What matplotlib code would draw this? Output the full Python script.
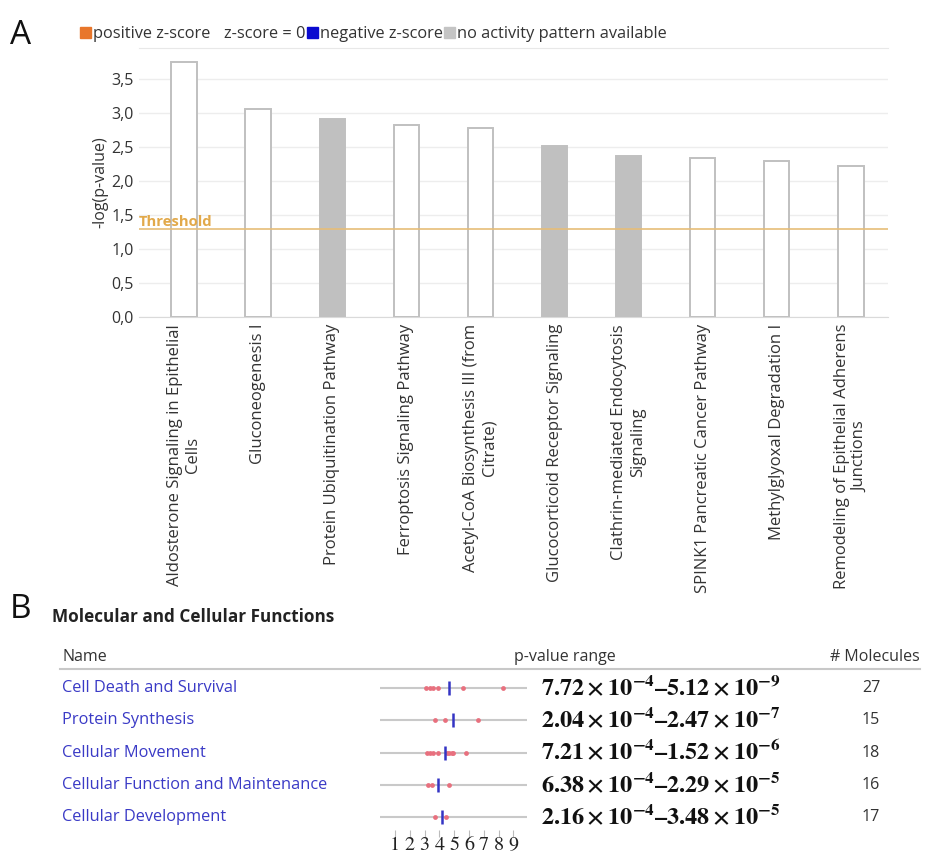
import numpy as np
import matplotlib
matplotlib.use('Agg')
import matplotlib.pyplot as plt
from matplotlib.patches import Patch
from matplotlib.ticker import FuncFormatter

plt.rcParams['font.family'] = ['Open Sans', 'DejaVu Sans']
plt.rcParams['mathtext.fontset'] = 'stix'

### data, panel A
pathways = [
  'Aldosterone Signaling in Epithelial\nCells',
  'Gluconeogenesis I',
  'Protein Ubiquitination Pathway',
  'Ferroptosis Signaling Pathway',
  'Acetyl-CoA Biosynthesis III (from\nCitrate)',
  'Glucocorticoid Receptor Signaling',
  'Clathrin-mediated Endocytosis\nSignaling',
  'SPINK1 Pancreatic Cancer Pathway',
  'Methylglyoxal Degradation I',
  'Remodeling of Epithelial Adherens\nJunctions',
]
neglogp = [3.76, 3.06, 2.92, 2.83, 2.78, 2.52, 2.37, 2.34, 2.30, 2.22]
no_pattern = [False, False, True, False, False, True, True, False, False, False]
threshold = 1.3

legend_labels = ['positive z-score', 'z-score = 0', 'negative z-score', 'no activity pattern available']
legend_colors = ['#e8762b', '#ffffff', '#0a0ad0', '#c4c4c4']

### data, panel B
functions = ['Cell Death and Survival', 'Protein Synthesis', 'Cellular Movement',
             'Cellular Function and Maintenance', 'Cellular Development']
p_low = [(7.72, -4), (2.04, -4), (7.21, -4), (6.38, -4), (2.16, -4)]
p_high = [(5.12, -9), (2.47, -7), (1.52, -6), (2.29, -5), (3.48, -5)]
n_molecules = [27, 15, 18, 16, 17]
# -log(p) of the single annotations (red dots) and the blue marker, per row
dots = [
  [3.11, 3.36, 3.55, 3.93, 5.57, 8.29],
  [3.69, 4.38, 6.61],
  [3.14, 3.36, 3.59, 3.93, 4.54, 4.67, 4.83, 4.94, 5.82],
  [3.20, 3.50, 4.64],
  [3.67, 4.46],
]
blue_mark = [4.67, 4.90, 4.38, 3.93, 4.15]
scale_ticks = [1, 2, 3, 4, 5, 6, 7, 8, 9]
scale_range = (0, 9.9)

W, H = 926, 858
def fx(x): return x / W
def fy(y): return 1 - y / H

fig = plt.figure(figsize=(W / 100, H / 100), dpi=100)

### panel A
ax = fig.add_axes([fx(139), fy(317), (888 - 139) / W, (317 - 48) / H])
idx = np.arange(len(pathways))
for i, (v, np_) in enumerate(zip(neglogp, no_pattern)):
  ax.bar(idx[i], v, width=0.34, color='#c0c0c0' if np_ else 'white',
         edgecolor='#c0c0c0', linewidth=1.4, zorder=3)
ax.axhline(threshold, color='#e6bd78', lw=1.2, zorder=4)
ax.text(0, threshold, 'Threshold', transform=ax.get_yaxis_transform(),
        color='#e2a94a', fontsize=10.7, fontweight='bold', va='bottom', ha='left', zorder=5)
ax.set_xlim(-0.607, 9.5)
ax.set_ylim(0, 3.96)
ax.set_yticks(np.arange(0, 3.6, 0.5))
ax.yaxis.set_major_formatter(FuncFormatter(lambda v, p: '{:.1f}'.format(v).replace('.', ',')))
ax.grid(axis='y', color='#ededed', lw=1, zorder=0)
ax.set_axisbelow(True)
for s in ['left', 'right']:
  ax.spines[s].set_visible(False)
ax.spines['bottom'].set_color('#dadada')
ax.spines['top'].set_color('#e8e8e8')
ax.tick_params(axis='y', length=0, pad=4, labelsize=11.5, labelcolor='#333333')
ax.tick_params(axis='x', length=0, pad=5)
ax.set_xticks(idx)
ax.set_xticklabels(pathways, rotation=90, fontsize=12, ha='center', va='top',
                   multialignment='center', color='#333333')
ax.set_ylabel('-log(p-value)', fontsize=11.5, color='#333333', labelpad=2)

handles = [Patch(facecolor=c, edgecolor=c) for c in legend_colors]
fig.legend(handles, legend_labels, loc='upper left', bbox_to_anchor=(fx(80), fy(26)),
           ncol=4, frameon=False, handlelength=0.7, handleheight=0.7,
           handletextpad=0.1, columnspacing=0.05, borderpad=0, borderaxespad=0,
           fontsize=11.8, labelcolor='#333333')

fig.text(fx(10), fy(36), 'A', fontsize=24, va='center', ha='left', color='#111111')
fig.text(fx(10), fy(610), 'B', fontsize=24, va='center', ha='left', color='#111111')

### panel B
fig.text(fx(52), fy(617), 'Molecular and Cellular Functions', fontsize=12.3,
         fontweight='bold', va='center', ha='left', color='#222222')
fig.text(fx(62), fy(657), 'Name', fontsize=11.5, va='center', color='#333333')
fig.text(fx(565), fy(657), 'p-value range', fontsize=11.5, va='center', ha='center', color='#333333')
fig.text(fx(920), fy(657), '# Molecules', fontsize=11.5, va='center', ha='right', color='#333333')
fig.add_artist(plt.Line2D([fx(60), fx(920)], [fy(669), fy(669)], color='#c8c8c8', lw=1.5))

row_y = [688 + 32.3 * i for i in range(len(functions))]
for i, name in enumerate(functions):
  fig.text(fx(62), fy(row_y[i]), name, fontsize=11.8, va='center', color='#3a3ac6')
  (a, ea), (b, eb) = p_low[i], p_high[i]
  txt = (r'$\mathbf{' + '{:.2f}'.format(a) + r'\times10^{' + str(ea) + r'}}$' + '\u2013'
         + r'$\mathbf{' + '{:.2f}'.format(b) + r'\times10^{' + str(eb) + r'}}$')
  fig.text(fx(541), fy(row_y[i]), txt, fontsize=17.5, va='center', ha='left',
           family='STIXGeneral', fontweight='bold', color='#111111')
  fig.text(fx(871), fy(row_y[i]), str(n_molecules[i]), fontsize=11.5, va='center',
           ha='center', color='#333333')

def v_of(px): return 1 + (px - 395) / 14.8
sax = fig.add_axes([fx(375), fy(830), (530 - 375) / W, (830 - 672) / H])
sax.set_xlim(v_of(375), v_of(530))
rows = np.arange(len(functions))
sax.set_ylim(4 + (830 - row_y[-1]) / 32.3, -(row_y[0] - 672) / 32.3)
sax.hlines(rows, scale_range[0], scale_range[1], color='#c9c9c9', lw=1.5, zorder=1)
for r, d in zip(rows, dots):
  sax.scatter(d, [r] * len(d), s=12, color='#e8707e', zorder=2, linewidths=0)
sax.scatter(blue_mark, rows, marker='|', s=110, color='#3434c4', linewidths=1.8, zorder=3)
for s in sax.spines.values():
  s.set_visible(False)
sax.set_yticks([])
sax.set_xticks(scale_ticks)
sax.set_xticklabels([str(t) for t in scale_ticks], family='STIXGeneral', fontsize=14.5, color='#222222')
sax.tick_params(axis='x', length=5, width=0.8, color='#bbbbbb', pad=0)

plt.savefig('out.png', dpi=100)
